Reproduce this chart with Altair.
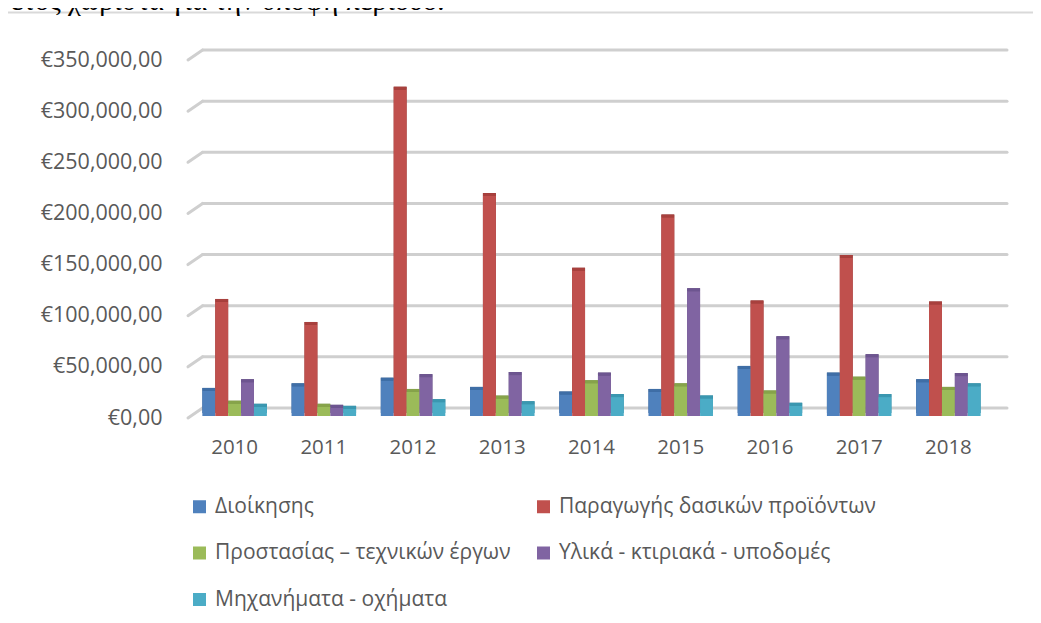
import altair as alt
import pandas as pd

# ---------------- data ----------------
years = ["2010", "2011", "2012", "2013", "2014", "2015", "2016", "2017", "2018"]
series_names = [
    "Διοίκησης",
    "Παραγωγής δασικών προϊόντων",
    "Προστασίας – τεχνικών έργων",
    "Υλικά - κτιριακά - υποδομές",
    "Μηχανήματα - οχήματα",
]
dioikisis = [24500, 29000, 34500, 25500, 21000, 23500, 46000, 39500, 33000]
paragogis = [111500, 89000, 319000, 215000, 142000, 194000, 110000, 154500, 109000]
prostasias = [12000, 9000, 23500, 17000, 32000, 29000, 22000, 35500, 25500]
ylika = [33000, 8000, 38000, 40000, 39500, 122000, 75000, 57500, 39000]
michanimata = [9000, 7000, 13500, 11500, 18500, 17000, 10000, 18500, 29000]
y_ticks = [0, 50000, 100000, 150000, 200000, 250000, 300000, 350000]
top_text = "ε έτος χωριστά για την υπόψη περίοδο."

face_colors = ["#4F81BD", "#C0504D", "#9BBB59", "#8064A2", "#4BACC6"]
side_colors = ["#2F5A8C", "#8A3431", "#6E8A3A", "#5A4578", "#2F8199"]
cap_colors = ["#3F6EA6", "#A8403D", "#86A34A", "#6D5590", "#3A97B0"]

rows = []
for name, vals in zip(series_names, [dioikisis, paragogis, prostasias, ylika, michanimata]):
    for yr, v in zip(years, vals):
        rows.append({"year": yr, "series": name, "value": v})
df = pd.DataFrame(rows)
grid_df = pd.DataFrame({"v": y_ticks})
one = pd.DataFrame({"t": [top_text]})

# legend is filled column by column: order the colour domain accordingly
legend_order = [0, 2, 4, 1, 3]
leg_domain = [series_names[i] for i in legend_order]
leg_face = [face_colors[i] for i in legend_order]
leg_side = [side_colors[i] for i in legend_order]
leg_cap = [cap_colors[i] for i in legend_order]

# ---------------- layout ----------------
W, H = 803, 358
SHIFT = 3
FONT = "Open Sans"
TXT = "#595959"
GRID = "#cfcfcf"

yscale = alt.Scale(domain=[0, 350000], nice=False, zero=True)
xscale = alt.Scale(paddingInner=0.277, paddingOuter=0.1385)
xo_scale = alt.Scale(domain=series_names, paddingInner=0, paddingOuter=0)

x_axis = alt.Axis(labelFont=FONT, labelFontSize=20.5, labelColor=TXT, domain=False,
                  ticks=False, tickSize=0, labelPadding=21, labelAngle=0, grid=False, title=None)
y_axis = alt.Axis(values=y_ticks, labelFont=FONT, labelFontSize=21.5, labelColor=TXT,
                  domain=False, ticks=False, tickSize=0, labelPadding=28, grid=False,
                  labelOffset=2, title=None,
                  labelExpr='"€" + replace(format(datum.value, ",.2f"), ".", ",")')

X = alt.X("year:N", scale=xscale, sort=years, axis=x_axis)
Y = alt.Y("value:Q", scale=yscale, axis=y_axis)
XO = alt.XOffset("series:N", scale=xo_scale, sort=series_names)

frame_top = alt.Chart(one).mark_rule(color="#d9d9d9", strokeWidth=2).encode(
    x=alt.value(-183.8), x2=alt.value(W + 50), y=alt.value(-45.6)
)
frame_left = alt.Chart(one).mark_rule(color="#d9d9d9", strokeWidth=2).encode(
    x=alt.value(-183.8), y=alt.value(-45.6), y2=alt.value(H + 210)
)
title_txt = alt.Chart(one).mark_text(
    font="Liberation Serif", fontSize=29, align="right", baseline="alphabetic", color="#000000"
).encode(text="t:N", x=alt.value(254.6), y=alt.value(-48.5))

grid = alt.Chart(grid_df).mark_rule(
    color=GRID, strokeWidth=3, yOffset=-8, strokeCap="round"
).encode(
    y=alt.Y("v:Q", scale=yscale, axis=y_axis),
    x=alt.value(12.6), x2=alt.value(817),
)
diag = alt.Chart(grid_df).mark_rule(
    color=GRID, strokeWidth=3, yOffset=2, y2Offset=-8, strokeCap="round"
).encode(
    y=alt.Y("v:Q", scale=yscale, axis=y_axis), y2="v:Q",
    x=alt.value(-2), x2=alt.value(12.6),
)

side = alt.Chart(df).mark_bar(xOffset=SHIFT + 4, yOffset=-3, y2Offset=-3).encode(
    x=X, xOffset=XO, y=Y,
    color=alt.Color("series:N", scale=alt.Scale(domain=leg_domain, range=leg_side), legend=None),
)
cap = alt.Chart(df).mark_bar(xOffset=SHIFT + 2, yOffset=-3, y2Offset=0).encode(
    x=X, xOffset=XO, y=Y, y2="value:Q",
    color=alt.Color("series:N", scale=alt.Scale(domain=leg_domain, range=leg_cap), legend=None),
)
face = alt.Chart(df).mark_bar(xOffset=SHIFT).encode(
    x=X, xOffset=XO, y=Y,
    color=alt.Color("series:N", scale=alt.Scale(domain=leg_domain, range=leg_face),
                    legend=alt.Legend(title=None, orient="none", legendX=-1, legendY=438,
                                      columns=2, symbolType="square", symbolSize=169,
                                      symbolStrokeWidth=0, labelFont=FONT, labelFontSize=21,
                                      labelColor=TXT, labelOffset=5, rowPadding=24.5,
                                      columnPadding=22, padding=0, labelLimit=500)),
)

chart = alt.layer(frame_top, frame_left, title_txt, grid, diag, side, cap, face).resolve_scale(
    color="independent"
).properties(
    width=W, height=H,
    padding={"left": 182, "top": 50, "right": 40, "bottom": 197},
    autosize=alt.AutoSizeParams(type="none"),
    background="white",
).configure_view(strokeWidth=0)

chart.save("out.html", embed_options={"renderer": "svg", "actions": False})
